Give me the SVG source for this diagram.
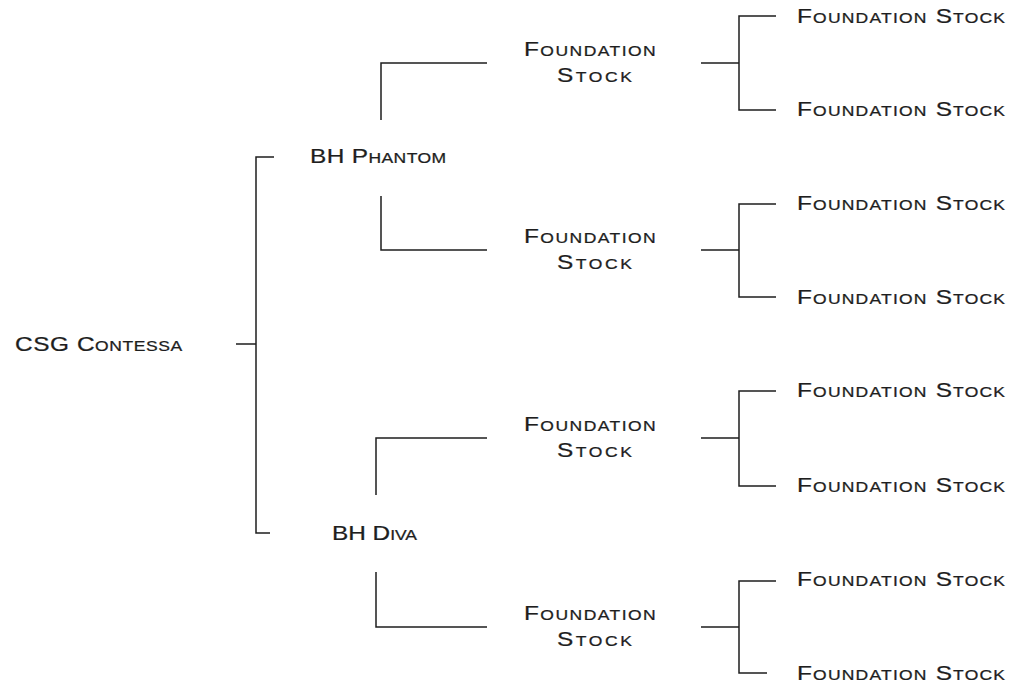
<svg xmlns="http://www.w3.org/2000/svg" width="1012" height="686" viewBox="0 0 1012 686">
<style>
text{font-family:"Liberation Sans",Arial,sans-serif;font-size:20px;font-variant:small-caps;fill:#1e1e1e;stroke:#1e1e1e;stroke-width:0.25}
#connectors path{fill:none;stroke:#1e1e1e;stroke-width:1.5}
</style>
<rect width="1012" height="686" fill="#fff"/>
<g id="connectors">
<path d="M236 344H256M274 157H256V533H270"/>
<path d="M381 120V63H487M381 196V250H487"/>
<path d="M376 495V438H487M376 572V627H487"/>
<path d="M701 63H739M776 16H739V110H776"/>
<path d="M701 250H739M776 204H739V297H776"/>
<path d="M701 438H739M776 391H739V486H776"/>
<path d="M701 627H739M776 581H739V673H767"/>
</g>
<g id="root"><text transform="matrix(1.22,0,0,1,15,351)" textLength="137" lengthAdjust="spacing">CSG Contessa</text></g>
<g id="bh-phantom"><text transform="matrix(1.22,0,0,1,310,163)" textLength="111.5" lengthAdjust="spacing">BH Phantom</text></g>
<g id="bh-diva"><text transform="matrix(1.22,0,0,1,332,540)" textLength="69.7" lengthAdjust="spacing">BH Diva</text></g>
<g id="fs1"><text transform="matrix(1.22,0,0,1,524,56)" textLength="108" lengthAdjust="spacing">Foundation</text><text transform="matrix(1.22,0,0,1,557,82)" textLength="61.5" lengthAdjust="spacing">Stock</text></g>
<g id="fs2"><text transform="matrix(1.22,0,0,1,524,243)" textLength="108" lengthAdjust="spacing">Foundation</text><text transform="matrix(1.22,0,0,1,557,269)" textLength="61.5" lengthAdjust="spacing">Stock</text></g>
<g id="fs3"><text transform="matrix(1.22,0,0,1,524,431)" textLength="108" lengthAdjust="spacing">Foundation</text><text transform="matrix(1.22,0,0,1,557,457)" textLength="61.5" lengthAdjust="spacing">Stock</text></g>
<g id="fs4"><text transform="matrix(1.22,0,0,1,524,620)" textLength="108" lengthAdjust="spacing">Foundation</text><text transform="matrix(1.22,0,0,1,557,646)" textLength="61.5" lengthAdjust="spacing">Stock</text></g>
<g id="leaf1"><text transform="matrix(1.22,0,0,1,797,23)" textLength="170.5" lengthAdjust="spacing">Foundation Stock</text></g>
<g id="leaf2"><text transform="matrix(1.22,0,0,1,797,116)" textLength="170.5" lengthAdjust="spacing">Foundation Stock</text></g>
<g id="leaf3"><text transform="matrix(1.22,0,0,1,797,210)" textLength="170.5" lengthAdjust="spacing">Foundation Stock</text></g>
<g id="leaf4"><text transform="matrix(1.22,0,0,1,797,304)" textLength="170.5" lengthAdjust="spacing">Foundation Stock</text></g>
<g id="leaf5"><text transform="matrix(1.22,0,0,1,797,397)" textLength="170.5" lengthAdjust="spacing">Foundation Stock</text></g>
<g id="leaf6"><text transform="matrix(1.22,0,0,1,797,492)" textLength="170.5" lengthAdjust="spacing">Foundation Stock</text></g>
<g id="leaf7"><text transform="matrix(1.22,0,0,1,797,586)" textLength="170.5" lengthAdjust="spacing">Foundation Stock</text></g>
<g id="leaf8"><text transform="matrix(1.22,0,0,1,797,680)" textLength="170.5" lengthAdjust="spacing">Foundation Stock</text></g>
</svg>
